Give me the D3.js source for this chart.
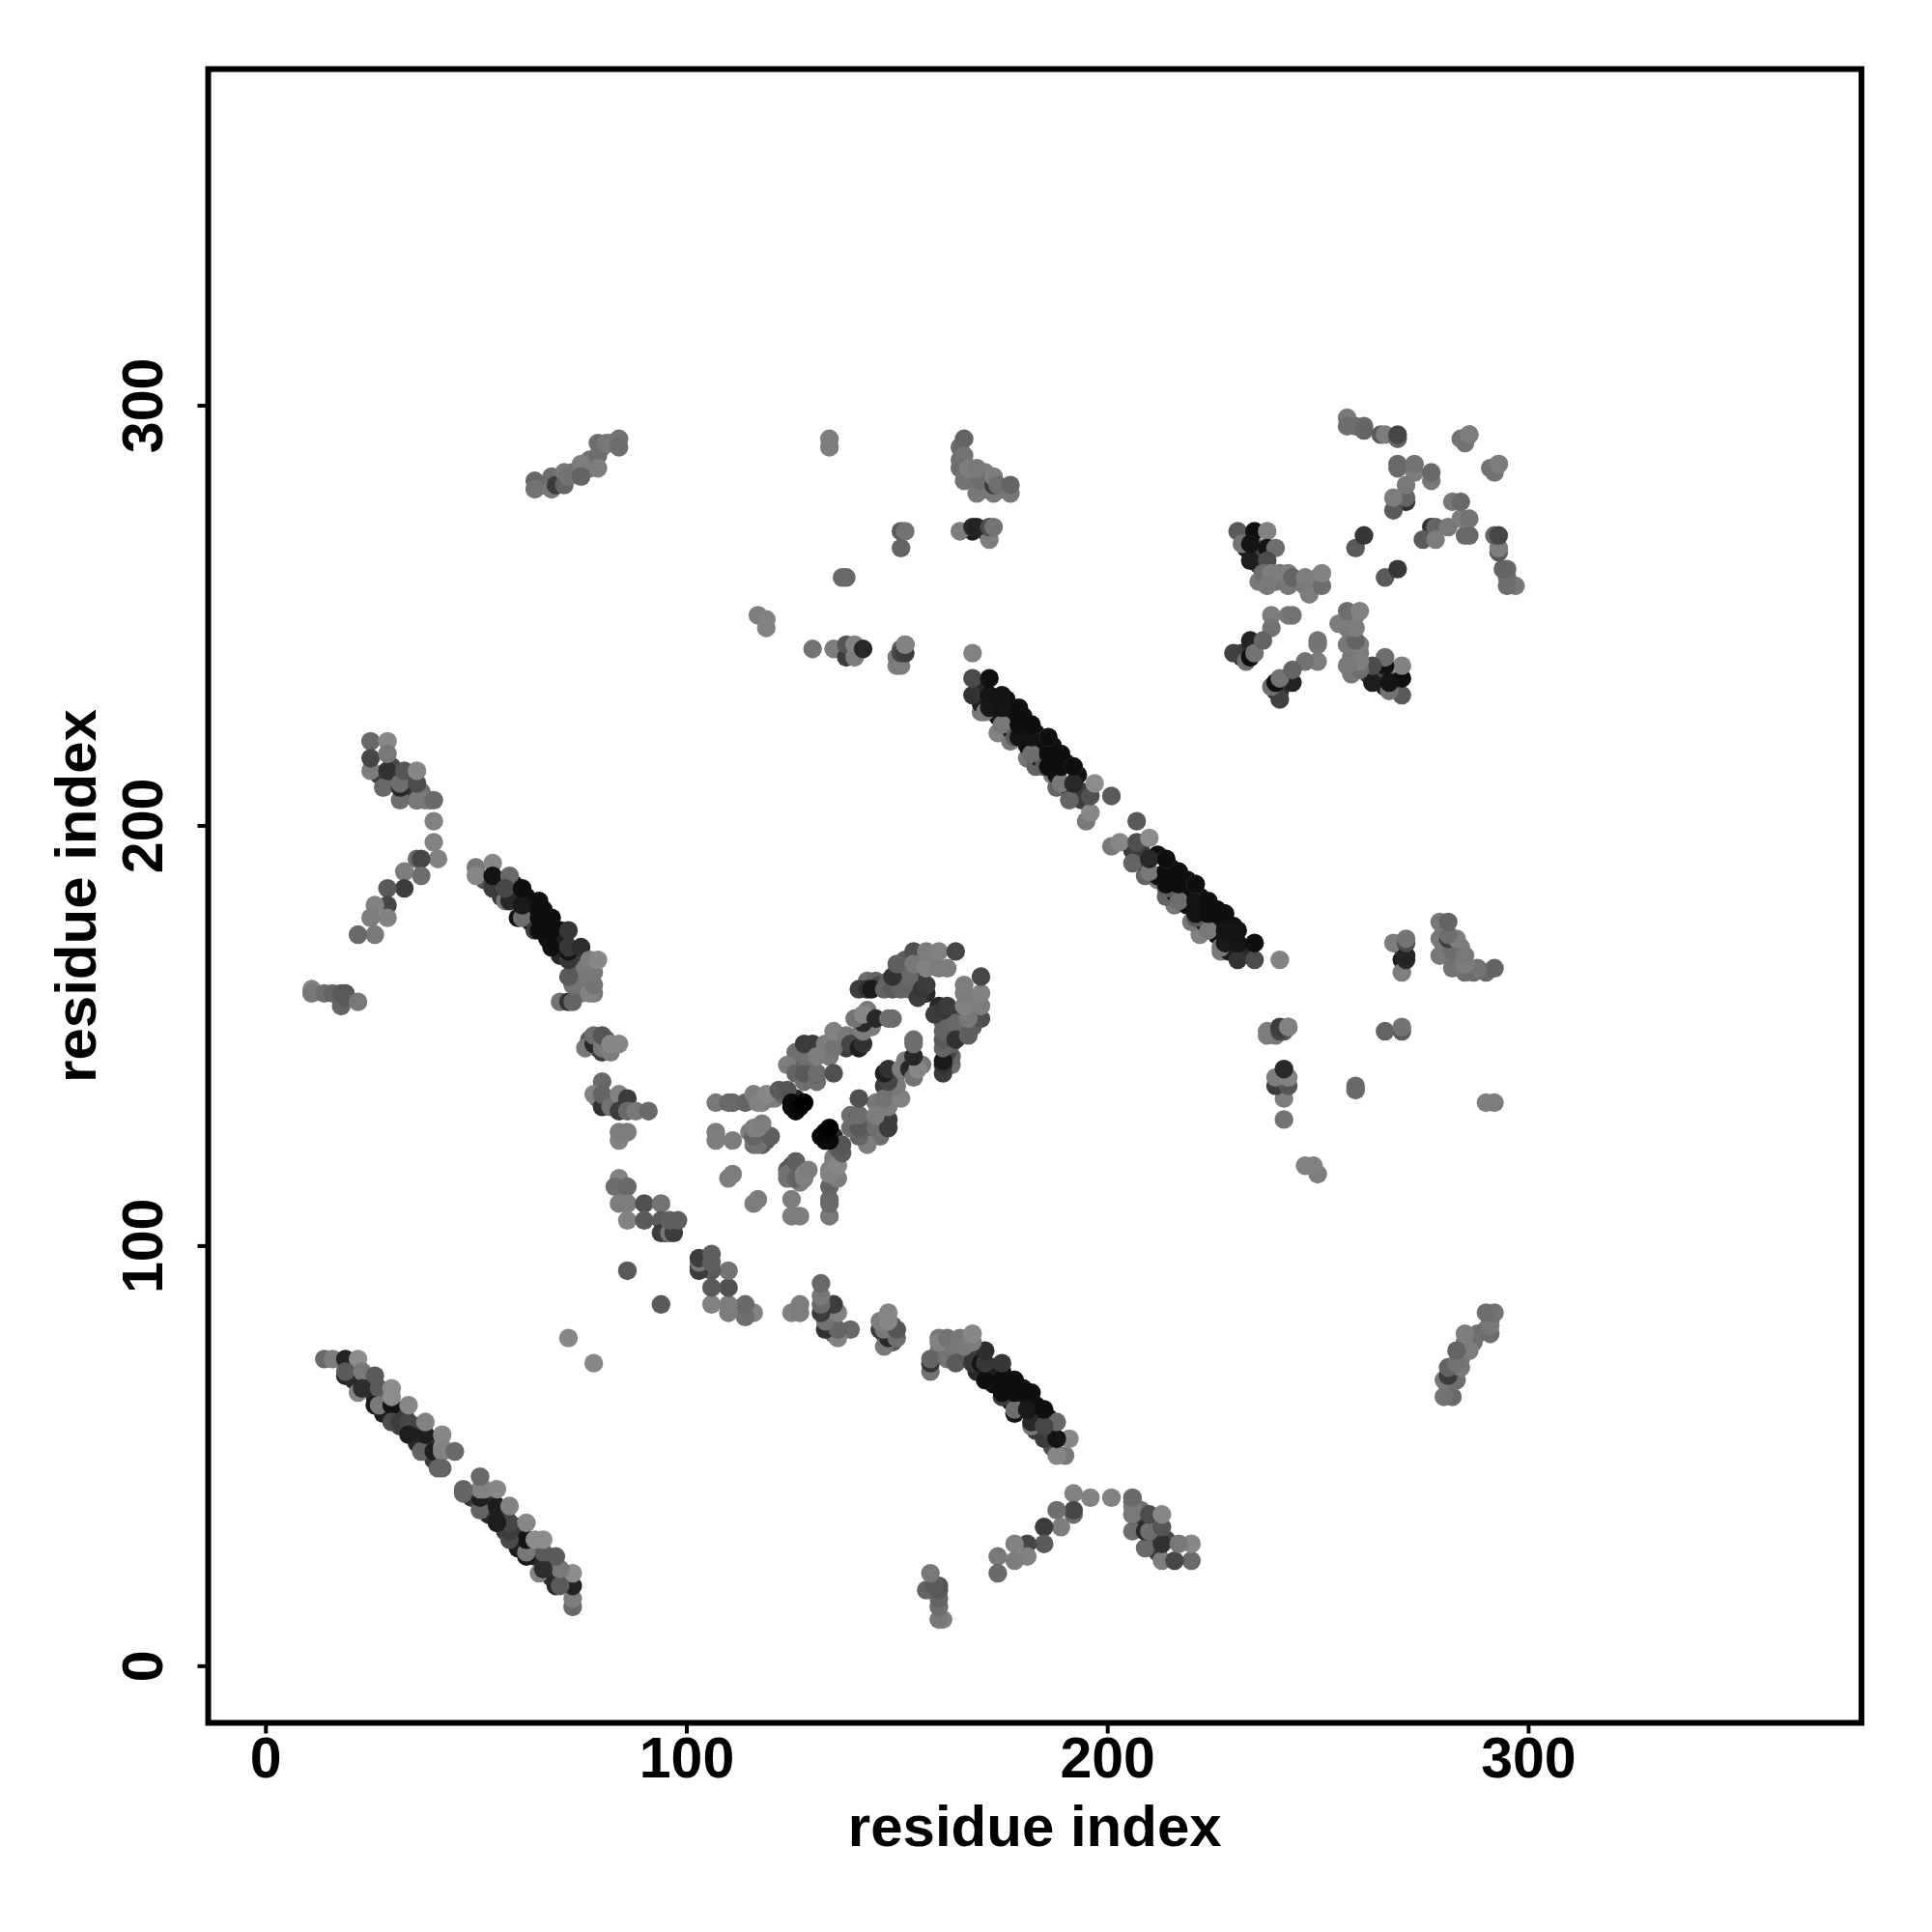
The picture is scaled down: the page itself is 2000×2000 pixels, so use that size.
<!DOCTYPE html>
<html>
<head>
<meta charset="utf-8">
<script src="https://cdn.jsdelivr.net/npm/d3@7"></script>
<style>html,body{margin:0;padding:0;background:#fff}svg{display:block}</style>
</head>
<body>
<svg id="chart" width="2000" height="2000"></svg>
<script>
// Each contact is [residue i, residue j, grey level] with i < j; a contact map holds both (i,j) and (j,i).
const tickValues = [0, 100, 200, 300];
const xTitle = "residue index";
const yTitle = "residue index";

// contacts mostly hidden beneath others, drawn first
const hiddenA = [[20,71,60],[21,68,40],[24,68,40],[25,66,70],[28,64,60],[28,60,30],[31,60,50],[33,60,50],[36,57,50],[36,53,40],[39,53,50],[40,49,60],[41,53,60],[32,57,60],[26,64,40],[22,71,40]];
const hiddenB = [[52,187,80],[55,187,40],[56,183,60],[59,186,25],[59,183,15],[62,183,15],[62,180,15],[63,177,15],[66,180,15],[66,176,15],[67,173,15],[70,175,15],[70,172,20],[71,173,30],[74,170,45],[70,169,40],[74,167,60],[75,165,90],[76,166,120],[76,163,120],[78,160,120],[75,160,115]];
const hiddenMain = [[170,227,120],[174,222,130],[177,220,120],[181,216,120],[183,214,100],[187,212,120],[188,209,100],[170,233,40],[170,229,30],[173,230,15],[174,226,15],[176,230,15],[177,227,15],[177,223,15],[180,226,15],[180,222,15],[181,219,15],[183,222,15],[184,220,15],[184,216,15],[187,219,15],[187,215,15],[188,212,15],[190,215,15],[191,209,40],[193,212,15],[194,206,60],[194,208,60]];
const hiddenLobe = [[120,135,125],[121,135,125],[123,136,100],[126,132,5],[125,133,5],[126,135,40],[129,143,110],[129,146,60],[129,140,100],[134,145,120],[136,149,120],[138,147,60],[137,149,110],[140,149,40],[141,150,100],[144,152,125],[143,156,120],[143,163,110],[145,163,100],[146,162,70],[148,163,95],[150,165,90],[152,166,110],[152,168,95],[155,168,120],[155,163,55],[155,161,40],[157,160,40],[158,167,125],[127,144,90],[126,146,110],[115,127,125],[118,126,100],[119,125,80],[116,124,110]];
const hiddenD = [[27,212,60],[30,214,70],[31,212,80],[33,208,110],[34,211,80],[35,209,50],[37,208,110],[39,206,100]];
const hiddenMid = [[82,134,100],[81,135,50],[79,135,100],[83,135,60],[85,133,80],[77,149,90],[79,147,50],[81,149,100],[85,112,125],[95,105,100],[95,103,50]];
const hiddenTop = [[66,281,100],[70,282,100],[73,284,110],[77,285,120],[77,287,115],[80,290,120],[82,291,110],[167,283,110],[168,282,115],[171,284,125],[175,280,100],[165,287,110],[165,290,105],[171,280,110],[168,270,30],[171,270,60],[151,242,90],[151,240,70],[139,241,50],[139,242,90]];
const hiddenStar = [[233,266,20],[235,265,20],[236,266,110],[236,262,60],[236,258,120],[240,258,115],[241,260,120],[245,258,115],[249,257,120],[250,259,125],[232,240,35],[232,241,50],[238,259,120],[236,264,70]];

const strandA = [[14,73,105],[16,73,125],[19,73,35],[22,73,140],[19,69,40],[19,70,90],[23,70,120],[26,69,90],[22,65,130],[23,66,45],[27,66,90],[26,62,25],[27,62,120],[30,62,20],[30,66,140],[30,64,140],[30,58,75],[32,58,60],[34,58,70],[34,55,30],[34,62,135],[37,51,100],[38,55,30],[38,58,130],[40,51,30],[42,55,135],[42,52,135],[42,51,130],[45,51,105],[41,47,100],[42,47,100]];
const strandB = [[50,190,120],[50,188,135],[54,191,135],[54,185,60],[54,188,20],[58,188,105],[57,182,120],[58,182,40],[57,185,70],[60,178,20],[61,178,110],[61,181,25],[61,185,15],[64,175,60],[65,175,15],[65,178,15],[65,182,15],[68,171,120],[68,171,15],[68,175,15],[68,178,15],[70,158,115],[72,158,50],[73,158,100],[77,160,130],[73,162,115],[72,164,90],[72,168,55],[72,170,20],[72,171,55],[72,175,55],[75,171,45],[78,162,115],[78,165,120],[77,168,125],[79,168,135]];
const clusterC = [[11,161,130],[11,160,120],[14,160,110],[16,160,100],[18,157,100],[18,160,90],[19,160,85],[19,159,90],[22,158,120]];
const clusterD = [[25,220,105],[29,220,135],[25,213,125],[25,216,70],[28,209,105],[29,213,50],[29,217,120],[32,206,110],[32,209,40],[32,210,110],[33,213,85],[36,206,40],[36,206,120],[36,210,75],[36,213,135],[38,206,120],[40,206,105],[40,201,130],[40,196,130],[41,192,130],[36,192,105],[37,192,70],[37,188,110],[33,189,125],[33,185,60],[29,185,90],[29,181,70],[26,181,130],[29,178,130],[25,178,125],[26,174,120],[22,174,105]];
const clusterE = [[76,147,120],[78,148,40],[78,150,110],[80,146,60],[80,147,120],[80,150,85],[82,146,125],[82,148,135],[84,148,135]];
const clusterF = [[80,139,105],[78,136,130],[80,133,50],[80,136,100],[82,133,115],[84,136,130],[84,132,60],[86,135,60],[86,132,105],[88,132,120],[91,132,105],[84,125,130],[84,127,125],[86,127,125]];
const clusterG = [[84,116,130],[83,114,110],[86,114,105],[84,110,125],[86,110,125],[86,106,130],[90,110,80],[94,110,115],[90,106,90],[94,106,90],[94,103,60],[96,103,120],[97,103,60],[96,106,95],[98,106,95]];
const isolated = [[72,78,135],[86,94,90],[168,241,130],[117,250,125],[119,249,130],[119,247,130],[137,259,105],[138,259,105]];
const lobeUpper = [[107,134,120],[110,134,105],[111,134,105],[114,134,100],[116,136,125],[117,134,130],[118,134,130],[119,136,135],[122,137,90],[124,137,85],[125,134,10],[127,133,5],[128,134,0],[124,143,125],[126,141,100],[128,139,110],[128,141,90],[128,145,110],[128,148,60],[130,148,60],[131,139,110],[131,141,40],[131,141,110],[131,145,125],[135,141,80],[133,148,125],[135,147,115],[135,151,130],[138,150,120],[139,148,70],[141,147,30],[142,148,50],[142,151,125],[142,153,40],[140,154,115],[142,155,135],[145,154,40],[148,154,110],[149,154,110],[141,161,60],[143,161,50],[144,161,25],[147,161,100],[149,161,90],[151,161,100],[153,161,100],[153,164,105],[149,164,50],[150,167,95],[155,159,60],[156,161,55],[157,162,60],[154,170,80],[154,167,120],[157,166,130],[157,170,125],[160,166,125],[162,166,125],[160,170,130],[164,170,70]];
const lobeInner = [[107,127,125],[107,125,125],[111,125,125],[116,125,120],[118,124,90],[117,127,130],[118,127,120],[120,126,105],[110,116,125],[111,117,125],[117,124,115],[116,126,100],[120,126,95],[116,128,125],[117,128,130],[118,129,125]];
const mainStrand = [[168,231,50],[168,235,75],[171,227,120],[172,228,25],[172,231,20],[172,235,15],[175,224,120],[175,228,20],[175,231,20],[178,221,90],[179,221,20],[179,224,15],[179,228,15],[182,217,110],[182,221,20],[182,224,15],[185,214,95],[186,214,15],[186,217,15],[186,221,125],[186,221,15],[189,210,120],[189,214,15],[189,217,15],[191,206,100],[192,210,40],[192,214,130],[192,214,15],[195,201,120],[196,203,135],[196,207,80],[197,210,140],[201,207,90]];
const upperMid = [[134,292,125],[134,290,125],[166,292,100],[166,288,115],[165,285,110],[166,282,115],[167,285,125],[169,279,120],[170,282,110],[169,285,120],[173,279,120],[173,281,60],[173,283,125],[174,281,110],[177,279,120],[177,281,100],[151,266,100],[151,270,90],[152,270,115],[150,238,125],[150,240,120],[151,238,125],[151,241,70],[152,241,60],[152,243,80],[152,243,130],[130,242,115],[135,242,125],[138,240,60],[138,243,85],[140,240,125],[140,243,130],[142,242,40],[165,270,125],[172,268,125],[168,271,40],[169,271,35],[172,271,75],[173,271,115]];
const farCluster = [[64,282,105],[64,280,115],[68,283,110],[68,280,120],[69,281,60],[71,284,120],[71,281,100],[72,283,115],[75,286,125],[75,283,100],[79,291,110],[79,288,110],[79,285,125],[81,291,120],[84,292,115],[84,290,110]];
const starLeft = [[231,270,90],[235,270,15],[238,270,130],[232,267,115],[234,263,30],[234,267,20],[238,266,20],[240,266,110],[238,263,75],[237,260,110],[239,260,125],[238,257,120],[243,257,120],[243,260,125],[244,259,100],[247,257,120],[247,259,125],[248,255,125],[251,257,110],[251,260,130],[239,250,125],[243,250,120],[244,250,115],[239,247,115],[230,241,65],[233,239,110],[234,240,15],[234,244,35],[235,241,115],[237,244,100]];
const starRight = [[259,266,90],[261,269,55],[257,297,120],[257,295,110],[259,295,110],[261,295,105],[261,294,100],[265,293,90],[266,293,125],[269,292,100],[269,293,70],[284,292,115],[286,293,130],[285,291,115],[286,293,125],[269,285,105],[269,286,105],[273,284,125],[273,286,115],[277,282,120],[277,284,105],[271,277,50],[271,278,100],[271,281,120],[268,275,90],[268,278,125]];

const groups = [hiddenA, hiddenB, hiddenMain, hiddenLobe, hiddenD, hiddenMid, hiddenTop, hiddenStar, strandA, strandB, clusterC, clusterD, clusterE, clusterF, clusterG, isolated, lobeInner, lobeUpper, mainStrand, upperMid, farCluster, starLeft, starRight];

const W = 2000, H = 2000;
const plotLeft = 215.5, plotRight = 1927, plotTop = 71.5, plotBottom = 1783.5;
const x = d3.scaleLinear().domain([-13.6, 379.2]).range([plotLeft, plotRight]);
const y = d3.scaleLinear().domain([-13.6, 380]).range([plotBottom, plotTop]);
const font = "'Liberation Sans', Arimo, Helvetica, Arial, sans-serif";

const svg = d3.select("#chart");
svg.append("rect").attr("width", W).attr("height", H).attr("fill", "#fff");

const points = [];
groups.forEach(g => g.forEach(d => { points.push({px: d[1], py: d[0], s: d[2]}); points.push({px: d[0], py: d[1], s: d[2]}); }));

svg.append("g").selectAll("circle").data(points).join("circle")
  .attr("cx", d => x(d.px)).attr("cy", d => y(d.py)).attr("r", 9.7)
  .attr("fill", d => d3.rgb(d.s, d.s, d.s));

const xAxis = svg.append("g").attr("transform", `translate(0,${plotBottom})`)
  .call(d3.axisBottom(x).tickValues(tickValues).tickFormat(d3.format("d")).tickSize(11).tickPadding(4).tickSizeOuter(0));
const yAxis = svg.append("g").attr("transform", `translate(${plotLeft},0)`)
  .call(d3.axisLeft(y).tickValues(tickValues).tickFormat(d3.format("d")).tickSize(11).tickSizeOuter(0));
[xAxis, yAxis].forEach(a => {
  a.select(".domain").remove();
  a.selectAll(".tick line").attr("stroke", "#000").attr("stroke-width", 4);
  a.selectAll("text").attr("font-family", font).attr("font-size", 59).attr("font-weight", "bold").attr("fill", "#000");
});
yAxis.selectAll(".tick text")
  .attr("x", 0).attr("dy", null).attr("text-anchor", "middle")
  .attr("transform", "translate(-47.5,0) rotate(-90)");

svg.append("rect").attr("x", plotLeft).attr("y", plotTop).attr("width", plotRight - plotLeft).attr("height", plotBottom - plotTop)
  .attr("fill", "none").attr("stroke", "#000").attr("stroke-width", 6);

svg.append("text").attr("x", (plotLeft + plotRight) / 2).attr("y", 1911).attr("text-anchor", "middle")
  .attr("font-family", font).attr("font-size", 60).attr("font-weight", "bold").text(xTitle);
svg.append("text").attr("transform", `translate(99,${(plotTop + plotBottom) / 2}) rotate(-90)`).attr("text-anchor", "middle")
  .attr("font-family", font).attr("font-size", 60).attr("font-weight", "bold").text(yTitle);
</script>
</body>
</html>
